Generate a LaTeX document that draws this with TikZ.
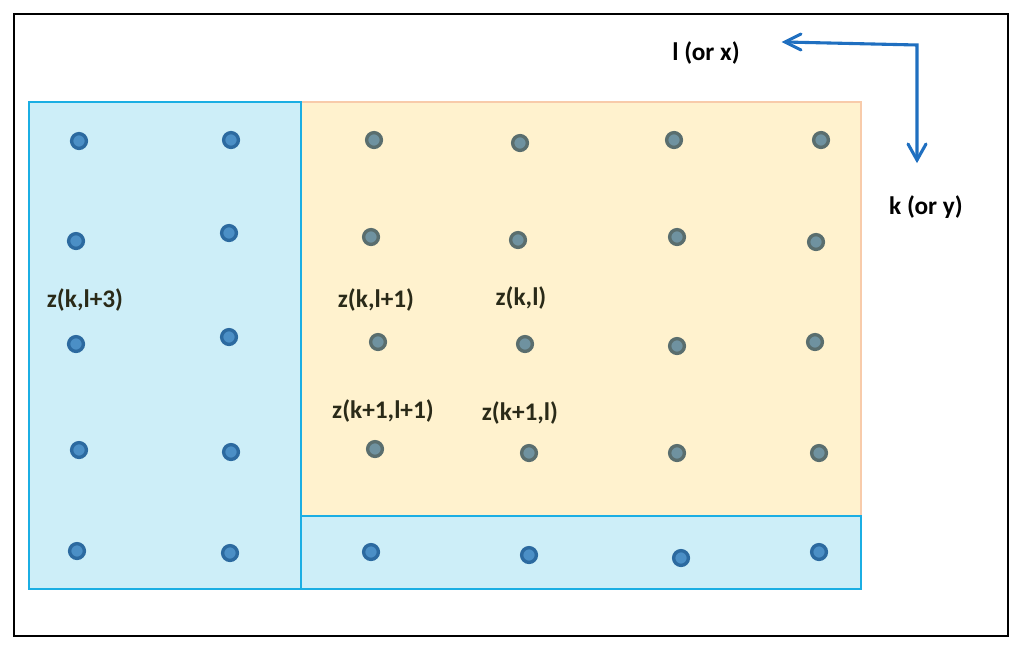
\documentclass[tikz,border=0pt]{standalone}
\usepackage{fontspec}
\setmainfont{Carlito}
\usetikzlibrary{calc}
\begin{document}
\begin{tikzpicture}[x=0.025cm,y=-0.025cm,
  lbl/.style={font=\fontsize{18}{20}\selectfont\bfseries,text=txt}]
\definecolor{txt}{HTML}{2A2A18}
\definecolor{gdring}{HTML}{5A6E6E}
\definecolor{gdfill}{HTML}{6F92A0}
\definecolor{bring}{HTML}{2C6AA0}
\definecolor{bfill}{HTML}{4B8FC6}
\definecolor{arr}{HTML}{1F6FC0}
\definecolor{orfill}{HTML}{FFF2CE}
\definecolor{ordraw}{HTML}{F8CBAA}
\definecolor{cyfill}{HTML}{CDEEF8}
\definecolor{cydraw}{HTML}{1BAEE3}
\tikzset{bdot/.style={circle,draw=bring,fill=bfill,line width=2.4pt,inner sep=0pt,minimum size=10.5pt},
  gdot/.style={circle,draw=gdring,fill=gdfill,line width=2.4pt,inner sep=0pt,minimum size=10.5pt}}
\useasboundingbox (0,0) rectangle (1024,651);
\fill[white] (0,0) rectangle (1024,651);
\draw[line width=1.5pt] (14,14) rectangle (1008,636);
\draw[draw=ordraw,fill=orfill,line width=1pt] (301,102) rectangle (861,516);
\draw[draw=cydraw,fill=cyfill,line width=1.1pt] (29,102) rectangle (301,589);
\draw[draw=cydraw,fill=cyfill,line width=1.1pt] (301,516) rectangle (861,589);
\foreach \x/\y [count=\i] in {79/141,231/140,76/241,229/233,76/344,229/337,79/450,231/452,77/551,230/553,371/552,529/555,681/558,819/552}
  \node[bdot] (b\i) at (\x,\y) {};
\foreach \x/\y [count=\i] in {374/140,520/143,674/140,821/140,371/237,518/240,677/237,816/242,378/342,525/344,677/346,815/342,375/449,529/453,677/453,819/453}
  \node[gdot] (g\i) at (\x,\y) {};
\node[lbl] (t1) at (85,300) {z(k,l+3)};
\node[lbl] (t2) at (376,300) {z(k,l+1)};
\node[lbl] (t3) at (521,298) {z(k,l)};
\node[lbl] (t4) at (383,411) {z(k+1,l+1)};
\node[lbl] (t5) at (520,413) {z(k+1,l)};
\node[lbl,text=black] (lx) at (706,53) {l (or x)};
\node[lbl,text=black] (ky) at (926,207) {k (or y)};
\coordinate (c) at (917,45);
\coordinate (l) at (785,42);
\coordinate (d) at (917,160);
\draw[arr,line width=2.2pt] (l) -- (c) -- (d);
\draw[arr,line width=2.2pt,line cap=round] ($(l)+(16,-8)$) -- (l) -- ($(l)+(16,8)$);
\draw[arr,line width=2.2pt,line cap=round] ($(d)+(-9,-16)$) -- (d) -- ($(d)+(9,-16)$);
\end{tikzpicture}
\end{document}
